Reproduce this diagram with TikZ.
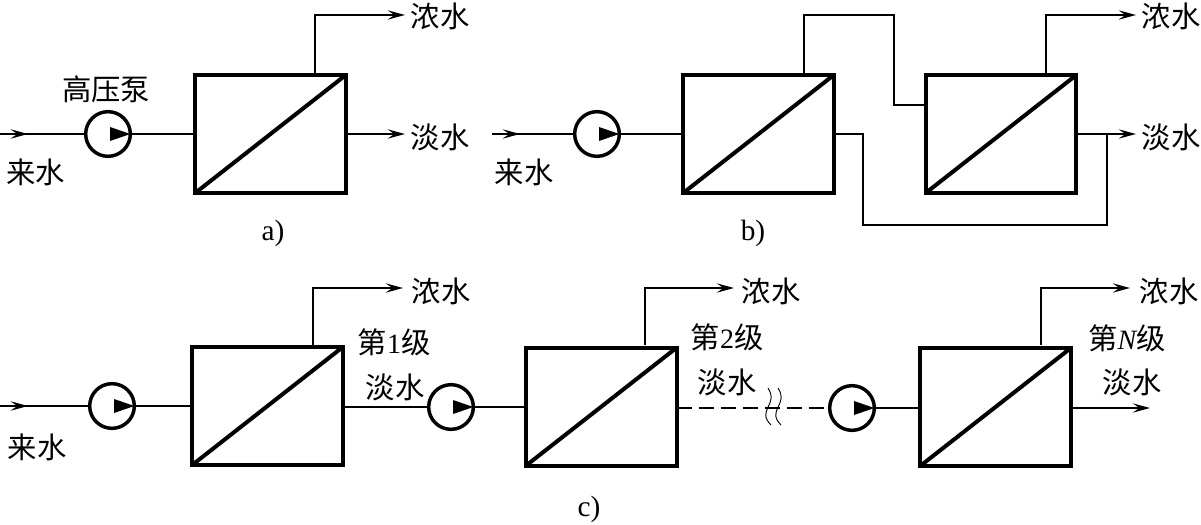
\documentclass[tikz,border=0pt]{standalone}
\usepackage{fontspec}
\setmainfont{Liberation Serif}
\newfontfamily\cjk{Noto Sans CJK SC}
\usetikzlibrary{arrows.meta}
\tikzset{
  unit/.style={draw,line width=3pt,minimum width=113pt,minimum height=88.5pt,inner sep=0pt,outer sep=0pt},
  pumpc/.style={draw,circle,line width=2.6pt,minimum size=33.5pt,inner sep=0pt,outer sep=0pt},
  pipe/.style={line width=1.1pt},
  flow/.style={pipe,-{Stealth[length=13pt,width=7pt,inset=5pt]}},
  lab/.style={font=\fontsize{22}{24}\selectfont\cjk,inner sep=0pt},
  captext/.style={font=\fontsize{22}{24}\selectfont,inner sep=0pt},
}
\newcommand{\unitbox}[3]{%
  \node[unit] (#1) at (#2,#3) {};
  \draw[line width=3pt] (#1.south west) -- (#1.north east);}
\newcommand{\pumpsym}[3]{%
  \node[pumpc] (#1) at (#2,#3) {};
  \fill ([shift={(2,-7)}]#1.center) -- (#1.east) -- ([shift={(2,7)}]#1.center) -- cycle;}
\begin{document}
\begin{tikzpicture}[x=0.75pt,y=-0.75pt]
\useasboundingbox (0,0) rectangle (1201,524);
% ---- a)
\unitbox{A}{270.5}{134}
\pumpsym{PA}{108}{134}
\coordinate (ai0) at (0,134); \coordinate (aim) at (28,134);
\coordinate (atop) at (315,73); \coordinate (atc) at (315,15);
\coordinate (ae1) at (405,15); \coordinate (ae2) at (405,134);
\node[lab] (aC) at (440,16) {浓水};
\node[lab] (aP) at (440,137) {淡水};
\node[lab] (aS) at (36,172) {来水};
\node[lab] (aH) at (106,89) {高压泵};
\node[captext] (aL) at (273,233) {a)};
\draw[pipe] (ai0) -- (PA);
\draw[flow] (ai0) -- (aim);
\draw[pipe] (PA) -- (A);
\draw[flow] (atop) -- (atc) -- (ae1);
\draw[flow] (A.east) -- (ae2);
% ---- b)
\unitbox{B1}{758.5}{134}
\unitbox{B2}{1001}{134}
\pumpsym{PB}{597}{134}
\coordinate (bi0) at (492,134); \coordinate (bim) at (520,134);
\coordinate (b1t) at (804,73); \coordinate (b1a) at (804,15); \coordinate (b1b) at (894,15);
\coordinate (b1c) at (894,105); \coordinate (b2i) at (925,105);
\coordinate (b2t) at (1046,73); \coordinate (b2a) at (1046,15);
\coordinate (be1) at (1136,15); \coordinate (be2) at (1136,134);
\coordinate (bq) at (1107,134); \coordinate (bq1) at (1107,225); \coordinate (bq2) at (863,225); \coordinate (bq3) at (863,134);
\node[lab] (bC) at (1171,16) {浓水};
\node[lab] (bP) at (1171,137) {淡水};
\node[lab] (bS) at (524,172) {来水};
\node[captext] (bL) at (753,233) {b)};
\draw[pipe] (bi0) -- (PB);
\draw[flow] (bi0) -- (bim);
\draw[pipe] (PB) -- (B1);
\draw[pipe] (b1t) -- (b1a) -- (b1b) -- (b1c) -- (b2i);
\draw[flow] (b2t) -- (b2a) -- (be1);
\draw[flow] (B2.east) -- (be2);
\draw[pipe] (B1.east) -- (bq3) -- (bq2) -- (bq1) -- (bq);
% ---- c)
\unitbox{C1}{267.5}{406}
\unitbox{C2}{601.5}{406.5}
\unitbox{C3}{995.5}{407}
\pumpsym{P1}{112}{406}
\pumpsym{P2}{451}{407}
\pumpsym{P3}{852}{408}
\coordinate (ci0) at (0,406); \coordinate (cim) at (28,406);
\coordinate (c1t) at (313,345); \coordinate (c1a) at (313,288); \coordinate (c1e) at (403,288);
\coordinate (c2t) at (645,345); \coordinate (c2a) at (645,288); \coordinate (c2e) at (734,288);
\coordinate (c3t) at (1041,345); \coordinate (c3a) at (1041,288); \coordinate (c3e) at (1130,288);
\coordinate (c3o) at (1150,408);
\node[lab] (cC1) at (441,291) {浓水};
\node[lab] (cC2) at (771,291) {浓水};
\node[lab] (cC3) at (1169,291) {浓水};
\node[lab] (cN1) at (394,342) {第{\fontsize{21}{23}\selectfont\rmfamily 1}级};
\node[lab] (cN2) at (727,337) {第{\fontsize{21}{23}\selectfont\rmfamily 2}级};
\node[lab] (cN3) at (1127,338) {第{\fontsize{21}{23}\selectfont\rmfamily\itshape N}级};
\node[lab] (cP1) at (395,387) {淡水};
\node[lab] (cP2) at (727,382) {淡水};
\node[lab] (cP3) at (1132,382) {淡水};
\node[lab] (cS) at (37,447) {来水};
\node[captext] (cL) at (589,509) {c)};
\draw[pipe] (ci0) -- (P1);
\draw[flow] (ci0) -- (cim);
\draw[pipe] (P1) -- (C1);
\draw[flow] (c1t) -- (c1a) -- (c1e);
\draw[pipe] (C1.east|-P2) -- (P2);
\draw[pipe] (P2) -- (C2.west|-P2);
\draw[flow] (c2t) -- (c2a) -- (c2e);
\draw[pipe,dash pattern=on 11pt off 5.5pt] (C2.east|-P3) -- (P3);
\draw[pipe] (P3) -- (C3.west|-P3);
\draw[flow] (c3t) -- (c3a) -- (c3e);
\draw[flow] (C3.east|-P3) -- (c3o);
\coordinate (w1a) at (768,388); \coordinate (w1b) at (771,425);
\coordinate (w2a) at (778,388); \coordinate (w2b) at (781,425);
\draw[line width=0.7pt] (w1a) .. controls (779,405) and (756,410) .. (w1b);
\draw[line width=0.7pt] (w2a) .. controls (789,405) and (766,410) .. (w2b);
\end{tikzpicture}
\end{document}
